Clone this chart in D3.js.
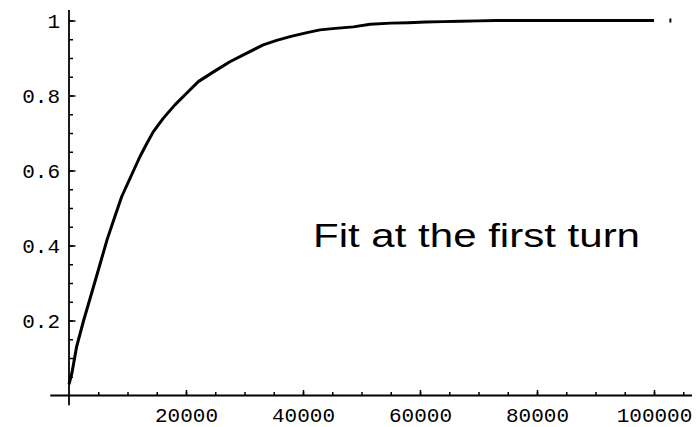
<!DOCTYPE html>
<html>
<head>
<meta charset="utf-8">
<script src="https://cdn.jsdelivr.net/npm/d3@7"></script>
<style>
  body { margin: 0; background: #fff; }
  #chart svg { display: block; }
</style>
</head>
<body>
<div id="chart"></div>
<script>
// values
let xs = [0, 500, 1300, 2500, 4000, 5300, 6500, 7900, 9000, 10400, 12100, 13300, 14400, 16100, 18100, 20100, 22100, 24700, 27500, 30400, 33200, 35500, 37800, 40500, 42900, 45500, 48600, 51500, 55000, 58000, 61000, 64000, 67000, 70000, 73000, 76000, 82000, 88000, 94000, 100000];
let ys = [0.03, 0.06, 0.13, 0.20, 0.28, 0.35, 0.415, 0.48, 0.53, 0.578, 0.636, 0.672, 0.703, 0.739, 0.775, 0.806, 0.837, 0.863, 0.890, 0.913, 0.935, 0.947, 0.957, 0.967, 0.975, 0.979, 0.983, 0.99, 0.993, 0.994, 0.996, 0.997, 0.998, 0.999, 1.0, 1.0, 1.0, 1.0, 1.0, 1.0];
let strayX = [102800];
let strayY = [1.0];

let xMajor = [20000, 40000, 60000, 80000, 100000];
let xMinor = d3.range(5000, 105001, 5000);
let yMajor = [0.2, 0.4, 0.6, 0.8, 1];
let yMinor = d3.range(0.05, 1.001, 0.05);
let xAxisExtent = [-3200, 106500];
let yAxisExtent = [-0.026, 1.028];
let note = "Fit at the first turn";

let width = 696, height = 427;
let svg = d3.select("#chart").append("svg")
  .attr("width", width)
  .attr("height", height);

let x = d3.scaleLinear().domain([0, 100000]).range([69, 654]);
let y = d3.scaleLinear().domain([0, 1]).range([395.5, 20.5]);

let tickFont = "'Liberation Mono', 'DejaVu Sans Mono', monospace";

/** AXIS LINES */
svg.append("line")
  .attr("x1", x(xAxisExtent[0])).attr("x2", x(xAxisExtent[1]))
  .attr("y1", y(0)).attr("y2", y(0))
  .attr("stroke", "#000").attr("stroke-width", 1.8);
svg.append("line")
  .attr("x1", x(0)).attr("x2", x(0))
  .attr("y1", y(yAxisExtent[0])).attr("y2", y(yAxisExtent[1]))
  .attr("stroke", "#000").attr("stroke-width", 1.8);

/** X AXIS */
let gxMinor = svg.append("g")
  .attr("transform", `translate(0,${y(0)})`)
  .call(d3.axisBottom(x).tickValues(xMinor).tickSizeInner(-3.5).tickSizeOuter(0).tickFormat(""));
let gx = svg.append("g")
  .attr("transform", `translate(0,${y(0)})`)
  .call(d3.axisBottom(x).tickValues(xMajor).tickSizeInner(-5.5).tickSizeOuter(0).tickPadding(12).tickFormat(d3.format("d")));

/** Y AXIS */
let gyMinor = svg.append("g")
  .attr("transform", `translate(${x(0)},0)`)
  .call(d3.axisLeft(y).tickValues(yMinor).tickSizeInner(-4).tickSizeOuter(0).tickFormat(""));
let gy = svg.append("g")
  .attr("transform", `translate(${x(0)},0)`)
  .call(d3.axisLeft(y).tickValues(yMajor).tickSizeInner(-6.5).tickSizeOuter(0).tickPadding(9).tickFormat(d => d === 1 ? "1" : d3.format(".1f")(d)));

[gxMinor, gx, gyMinor, gy].forEach(g => {
  g.select(".domain").remove();
  g.selectAll(".tick line").attr("stroke", "#000").attr("stroke-width", 1.5);
  g.selectAll("text")
    .attr("fill", "#000")
    .style("font-family", tickFont)
    .style("font-size", "21px");
});

/** CURVE */
let pts = xs.map((v, i) => [v, ys[i]]);
svg.append("path")
  .datum(pts)
  .attr("fill", "none")
  .attr("stroke", "#000")
  .attr("stroke-width", 3)
  .attr("stroke-linejoin", "round")
  .attr("d", d3.line().x(d => x(d[0])).y(d => y(d[1])));

svg.selectAll(".stray")
  .data(strayX.map((v, i) => [v, strayY[i]]))
  .enter()
  .append("rect")
  .attr("class", "stray")
  .attr("x", d => x(d[0]) - 1)
  .attr("y", d => y(d[1]) - 2)
  .attr("width", 2)
  .attr("height", 4)
  .attr("fill", "#000");

/** NOTE */
svg.append("text")
  .text(note)
  .attr("x", 313)
  .attr("y", 247)
  .attr("textLength", 327)
  .attr("lengthAdjust", "spacingAndGlyphs")
  .style("font-family", "'Liberation Sans', Arial, sans-serif")
  .style("font-size", "34px")
  .attr("fill", "#000");
</script>
</body>
</html>
